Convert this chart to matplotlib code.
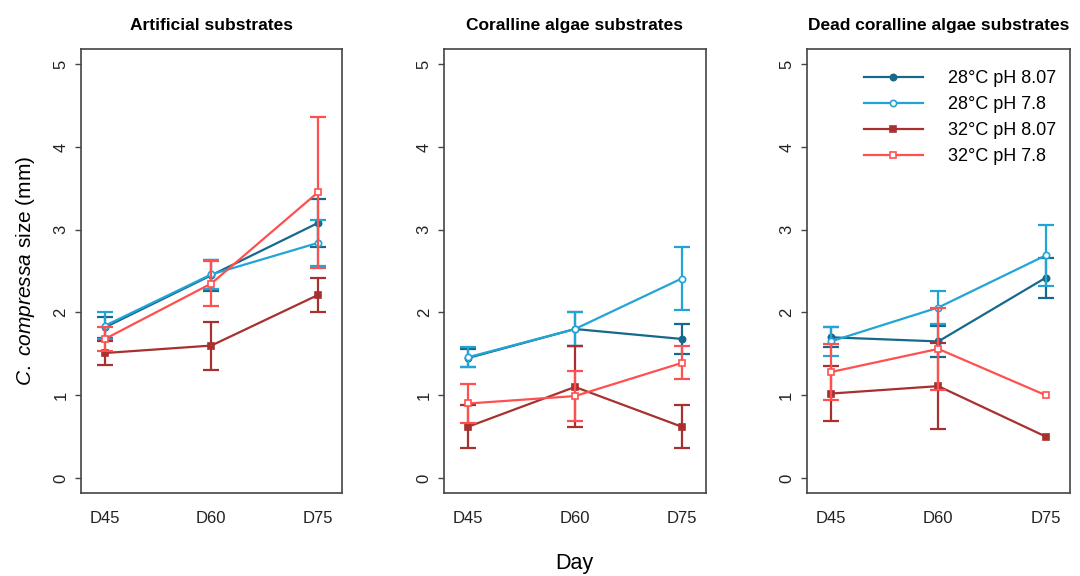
import matplotlib
matplotlib.use("Agg")
import matplotlib.pyplot as plt
from matplotlib.lines import Line2D

plt.rcParams['font.family'] = ['Liberation Sans', 'DejaVu Sans']
plt.rcParams['mathtext.fontset'] = 'custom'
plt.rcParams['mathtext.it'] = 'Liberation Sans:italic'
plt.rcParams['mathtext.rm'] = 'Liberation Sans'

days = ['D45', 'D60', 'D75']
series = ['28°C pH 8.07', '28°C pH 7.8', '32°C pH 8.07', '32°C pH 7.8']
titles = ['Artificial substrates', 'Coralline algae substrates',
          'Dead coralline algae substrates']

# means and error (one row per treatment, in the order of `series`)
artificial_mean = [[1.82, 2.45, 3.08], [1.84, 2.46, 2.84],
                   [1.51, 1.60, 2.21], [1.68, 2.35, 3.45]]
artificial_err = [[0.13, 0.19, 0.29], [0.16, 0.18, 0.28],
                  [0.15, 0.29, 0.21], [0.14, 0.27, 0.91]]
coralline_mean = [[1.45, 1.80, 1.68], [1.46, 1.80, 2.41],
                  [0.62, 1.10, 0.62], [0.90, 0.99, 1.39]]
coralline_err = [[0.11, 0.21, 0.18], [0.12, 0.20, 0.38],
                 [0.26, 0.49, 0.26], [0.23, 0.30, 0.20]]
dead_mean = [[1.70, 1.65, 2.42], [1.65, 2.06, 2.69],
             [1.02, 1.11, 0.50], [1.28, 1.56, 1.00]]
dead_err = [[0.12, 0.19, 0.24], [0.18, 0.20, 0.37],
            [0.33, 0.52, 0.0], [0.34, 0.50, 0.0]]

colors = ['#17698c', '#22a5d6', '#a8302f', '#ff5050']
markers = ['o', 'o', 's', 's']
faces = ['#17698c', 'white', '#a8302f', 'white']

fig = plt.figure(figsize=(10.8, 5.76), dpi=100)
lefts = [0.075, 0.4114, 0.7469]
widths = [0.2414, 0.242, 0.2438]
panels = [(artificial_mean, artificial_err),
          (coralline_mean, coralline_err),
          (dead_mean, dead_err)]

x = list(range(len(days)))
for i, (means, errs) in enumerate(panels):
    ax = fig.add_axes([lefts[i], 0.1436, widths[i], 0.7708])
    for k in range(len(series)):
        # error bars only where there is a spread
        ex = [x[j] for j in range(len(x)) if errs[k][j] > 0]
        ey = [means[k][j] for j in range(len(x)) if errs[k][j] > 0]
        ee = [errs[k][j] for j in range(len(x)) if errs[k][j] > 0]
        ax.errorbar(ex, ey, yerr=ee, fmt='none', ecolor=colors[k],
                    capsize=6, capthick=1.6, elinewidth=1.6)
        ax.plot(x, means[k], color=colors[k], lw=1.6, marker=markers[k],
                markersize=4.5, markerfacecolor=faces[k],
                markeredgecolor=colors[k], markeredgewidth=1.2)
    ax.set_xlim(-0.225, 2.225)
    ax.set_ylim(-0.185, 5.18)
    ax.set_xticks(x)
    ax.set_xticklabels(days, fontsize=12)
    ax.set_yticks(range(6))
    ax.set_yticklabels([str(v) for v in range(6)], fontsize=12, rotation=90,
                       va='center')
    ax.tick_params(axis='x', length=0, pad=13, colors='#222222')
    ax.tick_params(axis='y', length=4, width=1, pad=5, colors='#444444',
                   labelcolor='#222222')
    for s in ax.spines.values():
        s.set_color('#444444')
        s.set_linewidth(1.2)
    ax.set_title(titles[i], fontsize=12.5, fontweight='bold', pad=14)
    if i == 0:
        ax.set_ylabel(r'$\it{C.\ compressa}$ size (mm)', fontsize=15, labelpad=12)
    if i == 2:
        handles = [Line2D([], [], color=colors[k], lw=1.6, marker=markers[k],
                          markersize=4.5, markerfacecolor=faces[k],
                          markeredgecolor=colors[k], markeredgewidth=1.2)
                   for k in range(len(series))]
        ax.legend(handles, series, loc='upper right', frameon=False,
                  fontsize=13, handlelength=3.3, handletextpad=1.4,
                  labelspacing=0.5, borderaxespad=0.4,
                  bbox_to_anchor=(1.004, 0.985))

fig.text(0.532, 0.003, 'Day', fontsize=15.5, ha='center', va='bottom')
fig.savefig('out.png', dpi=100)
